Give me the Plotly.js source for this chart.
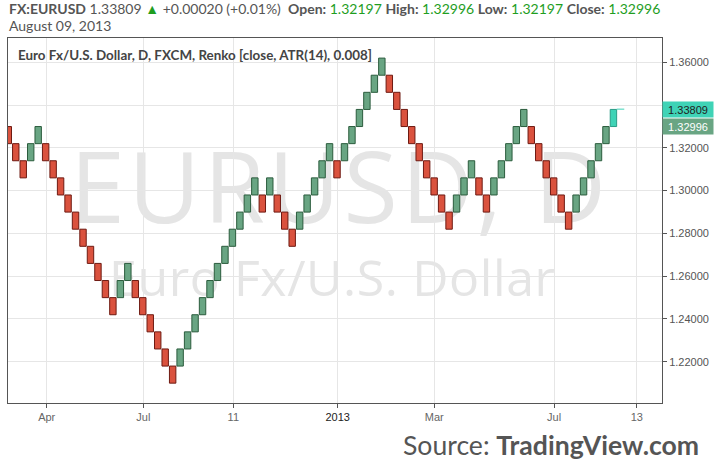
<!DOCTYPE html>
<html>
<head>
<meta charset="utf-8">
<script src="https://cdn.plot.ly/plotly-3.0.1.min.js"></script>
<style>
  html, body { margin: 0; padding: 0; background: #ffffff; }
  #wrap { position: relative; width: 714px; height: 474px; }
  #wm { position: absolute; left: 0; top: 0; }
  #chart { position: absolute; left: 0; top: 0; width: 714px; height: 474px; }
</style>
</head>
<body>
<div id="wrap">
  <svg id="wm" width="714" height="474">
    <text x="338" y="223" text-anchor="middle" font-family="Open Sans" font-size="99" fill="#e5e5e5" textLength="536" lengthAdjust="spacing">EURUSD, D</text>
    <text x="332" y="296" text-anchor="middle" font-family="Open Sans" font-size="50" fill="#e5e5e5" textLength="446" lengthAdjust="spacing">Euro Fx/U.S. Dollar</text>
  </svg>
  <div id="chart"></div>
</div>
<script>
// ---- data ----
const brickSize = 0.008;
const lastClose = 1.32996;
const lastPrice = 1.33809;
const brickLevel = [-1,-2,-3,-2,-1,-2,-3,-4,-5,-6,
  -7,-8,-9,-10,-11,-10,-9,-10,-11,-12,
  -13,-14,-15,-14,-13,-12,-11,-10,-9,-8,
  -7,-6,-5,-4,-5,-4,-5,-6,-7,-6,
  -5,-4,-3,-2,-3,-2,-1,0,1,2,
  3,2,1,0,-1,-2,-3,-4,-5,-6,
  -5,-4,-3,-4,-5,-4,-3,-2,-1,0,
  -1,-2,-3,-4,-5,-6,-5,-4,-3,-2,
  -1,0];
const brickDir = ["R","R","R","G","G","R","R","R","R","R",
  "R","R","R","R","R","G","G","R","R","R",
  "R","R","R","G","G","G","G","G","G","G",
  "G","G","G","G","R","G","R","R","R","G",
  "G","G","G","G","R","G","G","G","G","G",
  "G","R","R","R","R","R","R","R","R","R",
  "G","G","G","R","R","G","G","G","G","G",
  "R","R","R","R","R","R","G","G","G","G",
  "G","C"];
const tickPos = [5.14, 18.07, 30.12, 44.09, 57.02, 73.05, 84.12];
const tickLabels = ["Apr", "Jul", "11", "<span style='color:#222'>2013</span>", "Mar", "Jul", "13"];
const priceTicks = [1.22, 1.24, 1.26, 1.28, 1.30, 1.32, 1.34, 1.36];
// 1.34000 label sits under the last-price box in the reference
const priceTickText = ["1.22000", "1.24000", "1.26000", "1.28000", "1.30000", "1.32000", "", "1.36000"];

// ---- build traces ----
const styles = {
  R: {fill: "#da523e", line: "#6e1a12"},
  G: {fill: "#69a583", line: "#2b5c3d"},
  C: {fill: "#3fd3b6", line: "#2a9c86"}
};
const traces = [];
["R", "G", "C"].forEach(function (d) {
  const xs = [], bs = [], ys = [];
  brickDir.forEach(function (dir, i) {
    if (dir === d) {
      xs.push(i);
      bs.push(lastClose + brickSize * brickLevel[i]);
      ys.push(brickSize);
    }
  });
  traces.push({
    type: "bar", x: xs, y: ys, base: bs, width: 0.86,
    marker: {color: styles[d].fill, line: {color: styles[d].line, width: 1}},
    hoverinfo: "skip", showlegend: false
  });
});
const nB = brickDir.length;
traces.push({
  type: "scatter", mode: "lines",
  x: [nB - 1 + 0.45, nB - 1 + 1.45], y: [lastPrice, lastPrice],
  line: {color: "#3fd3b6", width: 1}, hoverinfo: "skip", showlegend: false
});

const L = 8, R = 662, T = 38, B = 403;
const W = R - L, H = B - T;
function px(x) { return (x - L) / W; }
function py(y) { return (B - y) / H; }

const green = "#1f9e1f";
const headerText =
  "<b>FX:EURUSD</b> 1.33809 <span style='color:" + green + "'>▲</span> +0.00020 (+0.01%)  " +
  "<b>Open:</b> <span style='color:" + green + "'>1.32197</span> " +
  "<b>High:</b> <span style='color:" + green + "'>1.32996</span> " +
  "<b>Low:</b> <span style='color:" + green + "'>1.32197</span> " +
  "<b>Close:</b> <span style='color:" + green + "'>1.32996</span>";

const layout = {
  width: 714, height: 474,
  margin: {l: L, r: 714 - R, t: T, b: 474 - B, pad: 0},
  paper_bgcolor: "rgba(0,0,0,0)",
  plot_bgcolor: "rgba(0,0,0,0)",
  barmode: "overlay",
  bargap: 0,
  showlegend: false,
  xaxis: {
    range: [-0.04, 87.5],
    tickmode: "array", tickvals: tickPos, ticktext: tickLabels,
    showgrid: true, gridcolor: "#e6e6e6", gridwidth: 1,
    zeroline: false,
    showline: true, linecolor: "#555", linewidth: 1, mirror: true,
    ticks: "outside", ticklen: 4, tickcolor: "#555",
    tickfont: {family: "Liberation Sans, Arial, sans-serif", size: 11, color: "#666"}
  },
  yaxis: {
    side: "right",
    range: [1.20069, 1.37136],
    tickmode: "array",
    tickvals: priceTicks, ticktext: priceTickText,
    showgrid: true, gridcolor: "#e6e6e6", gridwidth: 1,
    zeroline: false,
    showline: true, linecolor: "#555", linewidth: 1, mirror: true,
    ticks: "outside", ticklen: 4, tickcolor: "#555",
    tickfont: {family: "Liberation Sans, Arial, sans-serif", size: 11, color: "#555"}
  },
  annotations: [
    {xref: "paper", yref: "paper", x: px(7), y: py(9), xanchor: "left", yanchor: "middle",
     text: headerText, showarrow: false,
     font: {family: "Lato, Open Sans, sans-serif", size: 14, color: "#555"}},
    {xref: "paper", yref: "paper", x: px(7), y: py(25.5), xanchor: "left", yanchor: "middle",
     text: "August 09, 2013", showarrow: false,
     font: {family: "Lato, Open Sans, sans-serif", size: 14, color: "#555"}},
    {xref: "paper", yref: "paper", x: px(16), y: py(55), xanchor: "left", yanchor: "middle",
     text: "<b>Euro Fx/U.S. Dollar, D, FXCM, Renko [close, ATR(14), 0.008]</b>", showarrow: false,
     font: {family: "Lato, Open Sans, sans-serif", size: 13.4, color: "#444"}},
    {xref: "paper", yref: "paper", x: px(701), y: py(445), xanchor: "right", yanchor: "middle",
     text: "Source: <b>TradingView.com</b>", showarrow: false,
     font: {family: "Lato, Open Sans, sans-serif", size: 26.6, color: "#555"}},
    {xref: "paper", yref: "y", x: 1, y: lastPrice, xanchor: "left", yanchor: "middle",
     text: "1.33809", showarrow: false, bgcolor: "#3fd3b6", width: 48, height: 13, borderpad: 1,
     font: {family: "Liberation Sans, Arial, sans-serif", size: 11, color: "#222"}},
    {xref: "paper", yref: "y", x: 1, y: lastClose, xanchor: "left", yanchor: "middle",
     text: "1.32996", showarrow: false, bgcolor: "#69a583", width: 48, height: 13, borderpad: 1,
     font: {family: "Liberation Sans, Arial, sans-serif", size: 11, color: "#ffffff"}}
  ]
};

Plotly.newPlot("chart", traces, layout, {staticPlot: true, displayModeBar: false});
</script>
</body>
</html>
